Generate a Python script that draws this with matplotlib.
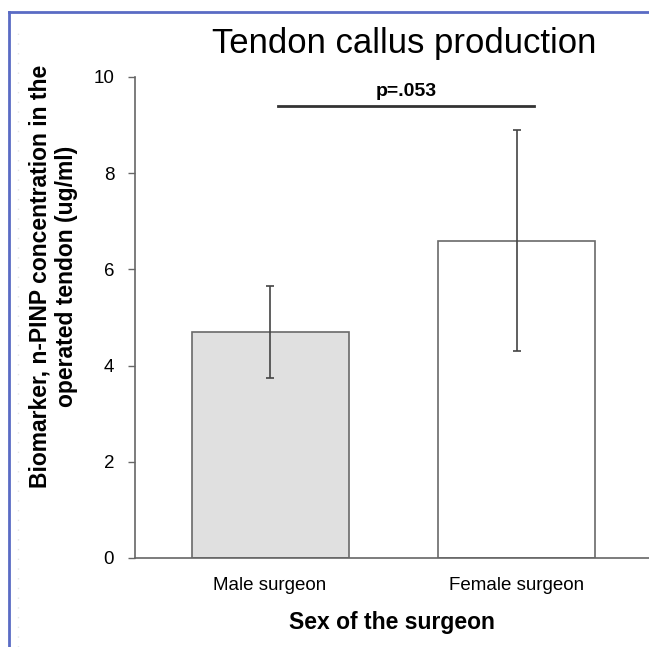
import matplotlib.pyplot as plt
from matplotlib.lines import Line2D

categories = ["Male surgeon", "Female surgeon"]
means = [4.7, 6.6]
errors = [0.95, 2.3]
bar_colors = ["#e0e0e0", "#ffffff"]
y_ticks = [0, 2, 4, 6, 8, 10]
p_text = "p=.053"
p_level = 9.40

plt.rcParams['font.family'] = ['Liberation Sans', 'DejaVu Sans']

fig = plt.figure(figsize=(6.49, 6.47), dpi=100)
ax = fig.add_axes([0.208, 0.1376, 0.792, 0.7434])

x = list(range(len(categories)))
ax.bar(x, means, width=0.636, color=bar_colors, edgecolor="#6a6a6a", linewidth=1.2)
ax.errorbar(x, means, yerr=errors, fmt="none", ecolor="#444444", elinewidth=1.2,
            capsize=3, capthick=1.2)

ax.set_xlim(-0.547, 1.535)
ax.set_ylim(0, 10)
ax.set_yticks(y_ticks)
ax.set_xticks(x)
ax.set_xticklabels(categories, fontsize=13.5, fontstretch='condensed')
ax.tick_params(axis='x', length=0, pad=14)
ax.tick_params(axis='y', direction='out', length=5, width=1, color="#666666",
               labelsize=13.5, pad=10)

for side in ["top", "right"]:
    ax.spines[side].set_visible(False)
for side in ["left", "bottom"]:
    ax.spines[side].set_color("#666666")
    ax.spines[side].set_linewidth(1.2)

# significance line
ax.plot([0.033, 1.07], [p_level, p_level], color="#333333", linewidth=2, clip_on=False)
ax.text(0.55, p_level + 0.12, p_text, ha="center", va="bottom", fontsize=14,
        fontweight="bold")

ax.set_xlabel("Sex of the surgeon", fontsize=16.5, fontweight="bold", labelpad=12)
ax.set_ylabel("Biomarker, n-PINP concentration in the\noperated tendon (ug/ml)",
              fontsize=16.5, fontweight="bold", linespacing=1.18)
ax.yaxis.set_label_coords(-0.111, 0.586)
fig.text(0.623, 0.918, "Tendon callus production", ha="center", va="baseline",
         fontsize=25)

# blue frame of the original slide
fig.add_artist(Line2D([0.0139, 1.0], [0.9815, 0.9815], color="#5a6bc4", linewidth=2))
fig.add_artist(Line2D([0.0139, 0.0139], [0.0, 0.9815], color="#5a6bc4", linewidth=2))
fig.add_artist(Line2D([0.028, 0.028], [0.0, 0.96], color="#e6e6e6", linewidth=1,
                      linestyle=(0, (1, 6))))

fig.savefig("out.png", dpi=100)
